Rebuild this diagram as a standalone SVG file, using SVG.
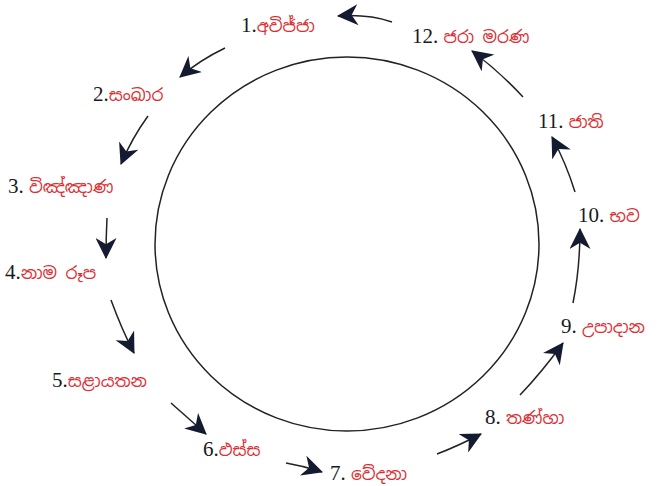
<svg xmlns="http://www.w3.org/2000/svg" width="659" height="486" viewBox="0 0 659 486">
<style>
.num{font-family:"Liberation Serif","Times New Roman",serif;font-size:21px;fill:#1a1a1a}
.si{font-family:"Noto Sans Sinhala","Iskoola Pota","Noto Sans",sans-serif;font-size:17px;fill:#dc2f33}
.c{fill:none;stroke:#222;stroke-width:1.5}
.a{fill:none;stroke:#222;stroke-width:1.5;marker-end:url(#h)}
</style>
<defs>
<marker id="h" viewBox="0 0 20 20" markerWidth="21" markerHeight="21" refX="19" refY="10" orient="auto" markerUnits="userSpaceOnUse">
<path d="M0,0 L20,10 L0,20 L6,10 z" fill="#141a30"/>
</marker>
</defs>
<rect width="659" height="486" fill="#fff"/>
<ellipse class="c" cx="347" cy="244" rx="192" ry="187"/>
<g id="connectors">
<path class="a" d="M392,22 Q368,14 338,16"/>
<path class="a" d="M225,48 Q200,60 180,77"/>
<path class="a" d="M148,116 Q132,138 121,164"/>
<path class="a" d="M107,218 Q106,238 106,258"/>
<path class="a" d="M111,300 Q122,330 134,353"/>
<path class="a" d="M171,403 Q188,418 206,434"/>
<path class="a" d="M286,463 Q304,466 322,472"/>
<path class="a" d="M437,454 Q458,446 481,434"/>
<path class="a" d="M520,395 Q542,372 563,343"/>
<path class="a" d="M573,303 Q580,268 580,229"/>
<path class="a" d="M575,192 Q566,163 552,137"/>
<path class="a" d="M523,97 Q500,72 472,51"/>
</g>
<g id="n1"><text x="241" y="32"><tspan class="num">1.</tspan><tspan class="si">අවිජ්ජා</tspan></text></g>
<g id="n2"><text x="93" y="101"><tspan class="num">2.</tspan><tspan class="si">සංඛාර</tspan></text></g>
<g id="n3"><text x="8" y="193"><tspan class="num">3. </tspan><tspan class="si">විඤ්ඤාණ</tspan></text></g>
<g id="n4"><text x="5" y="279"><tspan class="num">4.</tspan><tspan class="si">නාම රූප</tspan></text></g>
<g id="n5"><text x="52" y="387"><tspan class="num">5.</tspan><tspan class="si">සළායතන</tspan></text></g>
<g id="n6"><text x="203" y="456"><tspan class="num">6.</tspan><tspan class="si">ඵස්ස</tspan></text></g>
<g id="n7"><text x="330" y="480"><tspan class="num">7. </tspan><tspan class="si">වේදනා</tspan></text></g>
<g id="n8"><text x="485" y="424"><tspan class="num">8. </tspan><tspan class="si">තණ්හා</tspan></text></g>
<g id="n9"><text x="561" y="333"><tspan class="num">9. </tspan><tspan class="si">උපාදාන</tspan></text></g>
<g id="n10"><text x="578" y="222"><tspan class="num">10. </tspan><tspan class="si">භව</tspan></text></g>
<g id="n11"><text x="538" y="128"><tspan class="num">11. </tspan><tspan class="si">ජාති</tspan></text></g>
<g id="n12"><text x="412" y="43"><tspan class="num">12. </tspan><tspan class="si">ජරා මරණ</tspan></text></g>
</svg>
